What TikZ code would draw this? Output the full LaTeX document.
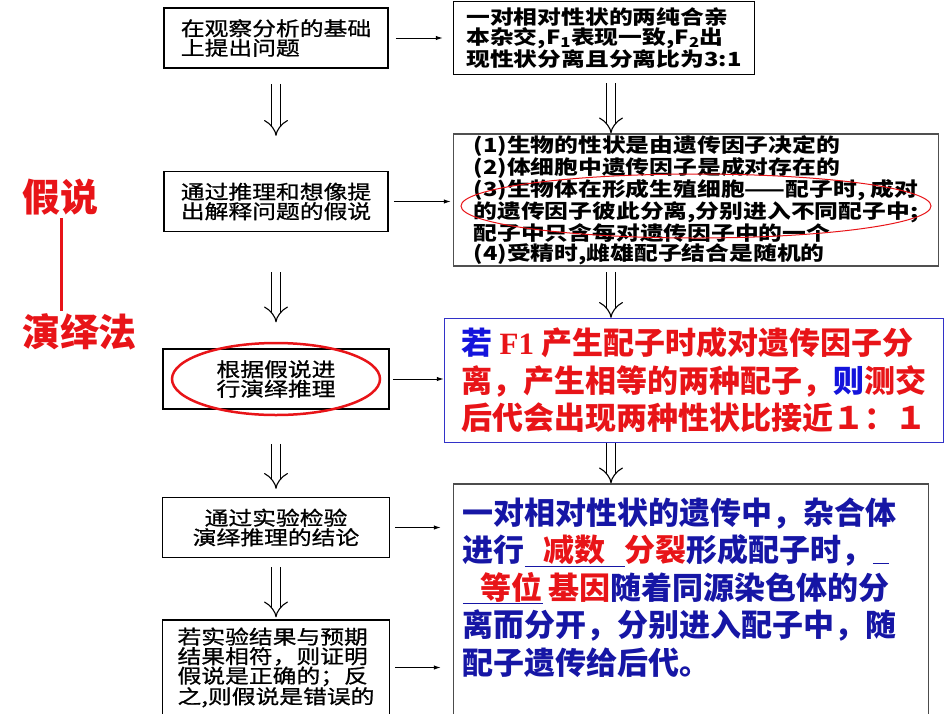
\documentclass[tikz,border=0pt]{standalone}
\usepackage{fontspec}
\newfontfamily\smallcjk[FakeStretch=1.22]{Noto Sans CJK SC}
\newfontfamily\zhongcjk[FakeStretch=1.22,FakeBold=0.9]{Noto Sans CJK SC}
\newfontfamily\bigcjk{Noto Sans CJK SC}
\newfontfamily\latinserif{Liberation Serif}
\usetikzlibrary{arrows.meta,positioning}

\definecolor{hong}{RGB}{232,20,24}
\definecolor{lan}{RGB}{20,20,220}
\definecolor{shenlan}{RGB}{22,22,165}
\definecolor{kuanglan}{RGB}{50,50,200}
\definecolor{kuanghui}{RGB}{80,80,80}

\newcommand{\kong}[3][c]{\underline{\makebox[#2][#1]{\textcolor{hong}{#3}}}}

\tikzset{
	kuang/.style={draw, line width=1.5pt, inner sep=0pt},
	xiaozi/.style={font=\zhongcjk\fontsize{19.5}{19.5}\selectfont, align=left},
	xiaocu/.style={font=\smallcjk\bfseries\fontsize{19.5}{19.5}\selectfont, align=left},
	dazi/.style={font=\bigcjk\bfseries\fontsize{31}{37.5}\selectfont, align=left},
	biaoqian/.style={font=\bigcjk\bfseries\fontsize{38}{40}\selectfont, text=hong, inner sep=3pt},
	jian/.style={line width=1pt, -{Latex[length=7pt,width=4.5pt]}},
	shuang/.style={double, double distance=7.5pt, line width=1.1pt, -{Implies[length=11pt,width=24pt]}},
	quan/.style={draw=hong}
}

\begin{document}
\begin{tikzpicture}[x=1pt, y=-1pt]
		\useasboundingbox (0,0) rectangle (950,713);

		\node[kuang, xiaozi, minimum width=224pt, minimum height=60pt] (b1) at (276,38) {在观察分析的基础\\上提出问题};
		\node[kuang, xiaozi, minimum width=224pt, minimum height=60pt, below=102pt of b1] (b2) {通过推理和想像提\\出解释问题的假说};
		\node[kuang, xiaozi, minimum width=226pt, minimum height=60pt, below=116pt of b2, align=center] (b3) {根据假说进\\行演绎推理};
		\node[kuang, xiaozi, minimum width=227pt, minimum height=60pt, below=87pt of b3, align=center] (b4) {通过实验检验\\演绎推理的结论};
		\node[kuang, xiaozi, minimum width=227pt, minimum height=95pt, below=61pt of b4] (b5) {若实验结果与预期\\结果相符，则证明\\假说是正确的；反\\之,则假说是错误的};

		\node[kuang, xiaocu, minimum width=301pt, minimum height=73pt, right=64pt of b1] (r1) {一对相对性状的两纯合亲\\本杂交,F\textsubscript{1}表现一致,F\textsubscript{2}出\\现性状分离且分离比为3:1};
		\node[kuang, draw=kuanghui, xiaocu, minimum width=485pt, minimum height=132pt, below right=58pt and 0pt of r1.south west] (r2) {(1)生物的性状是由遗传因子决定的\\(2)体细胞中遗传因子是成对存在的\\(3)生物体在形成生殖细胞——配子时, 成对\\的遗传因子彼此分离,分别进入不同配子中;\\配子中只含每对遗传因子中的一个\\(4)受精时,雌雄配子结合是随机的};
		\node[kuang, draw=kuanglan, dazi, text=hong, minimum width=499pt, minimum height=124pt, below right=51pt and -9pt of r2.south west] (r3) {{\color{lan}若} {\latinserif F1} 产生配子时成对遗传因子分\\离，产生相等的两种配子，{\color{lan}则}测交\\后代会出现两种性状比接近１：１};
		\node[kuang, draw=black!70, minimum width=475pt, minimum height=240pt, below right=40pt and 9pt of r3.south west] (r4) {};
		\node[dazi, text=shenlan, inner sep=0pt, below right=14pt and 10pt of r4.north west] (r4txt) {一对相对性状的遗传中，杂合体\\进行\kong{100pt}{减数}{\color{hong}分裂}形成配子时，\kong{16pt}{}\\\kong[r]{80pt}{等位}\,{\color{hong}基因}随着同源染色体的分\\离而分开，分别进入配子中，随\\配子遗传给后代。};

		\node[biaoqian] (jiashuo) at (61,197) {假说};
		\node[biaoqian] (yanyi) at (80,332) {演绎法};
		\draw[hong, line width=3pt] (jiashuo.south) -- (jiashuo.south |- yanyi.north);

		\draw[shuang, shorten <=15pt, shorten >=35pt] (b1.south) -- (b2.north);
		\draw[shuang, shorten <=40pt, shorten >=26pt] (b2.south) -- (b3.north);
		\draw[shuang, shorten <=34pt, shorten >=8pt] (b3.south) -- (b4.north);
		\draw[shuang, shorten <=9pt, shorten >=2pt] (b4.south) -- (b5.north);

		\draw[shuang, shorten <=8pt] ([xshift=7pt]r1.south) -- ([xshift=7pt]r1.south |- r2.north);
		\draw[shuang, shorten <=5pt] ([xshift=7pt]r1.south |- r2.south) -- ([xshift=7pt]r1.south |- r3.north);
		\draw[shuang] ([xshift=7pt]r1.south |- r3.south) -- ([xshift=7pt]r1.south |- r4.north);

		\draw[jian, shorten <=7pt, shorten >=10pt] (b1.east) -- (r1.west);
		\draw[jian, shorten <=5pt, shorten >=2pt] (b2.east) -- (b2.east -| r2.west);
		\draw[jian, shorten <=3pt] (b3.east) -- (b3.east -| r3.west);
		\draw[jian, shorten <=5pt, shorten >=12pt] (b4.east) -- (b4.east -| r4.west);
		\draw[jian, shorten <=5pt, shorten >=12pt] (b5.east) -- (b5.east -| r4.west);

		\draw[quan, line width=2.5pt] (b3.center) ellipse [x radius=104pt, y radius=36pt];
		\draw[quan, line width=1pt] ([yshift=-6pt]r2.center) ellipse [x radius=235pt, y radius=32pt];
\end{tikzpicture}
\end{document}
